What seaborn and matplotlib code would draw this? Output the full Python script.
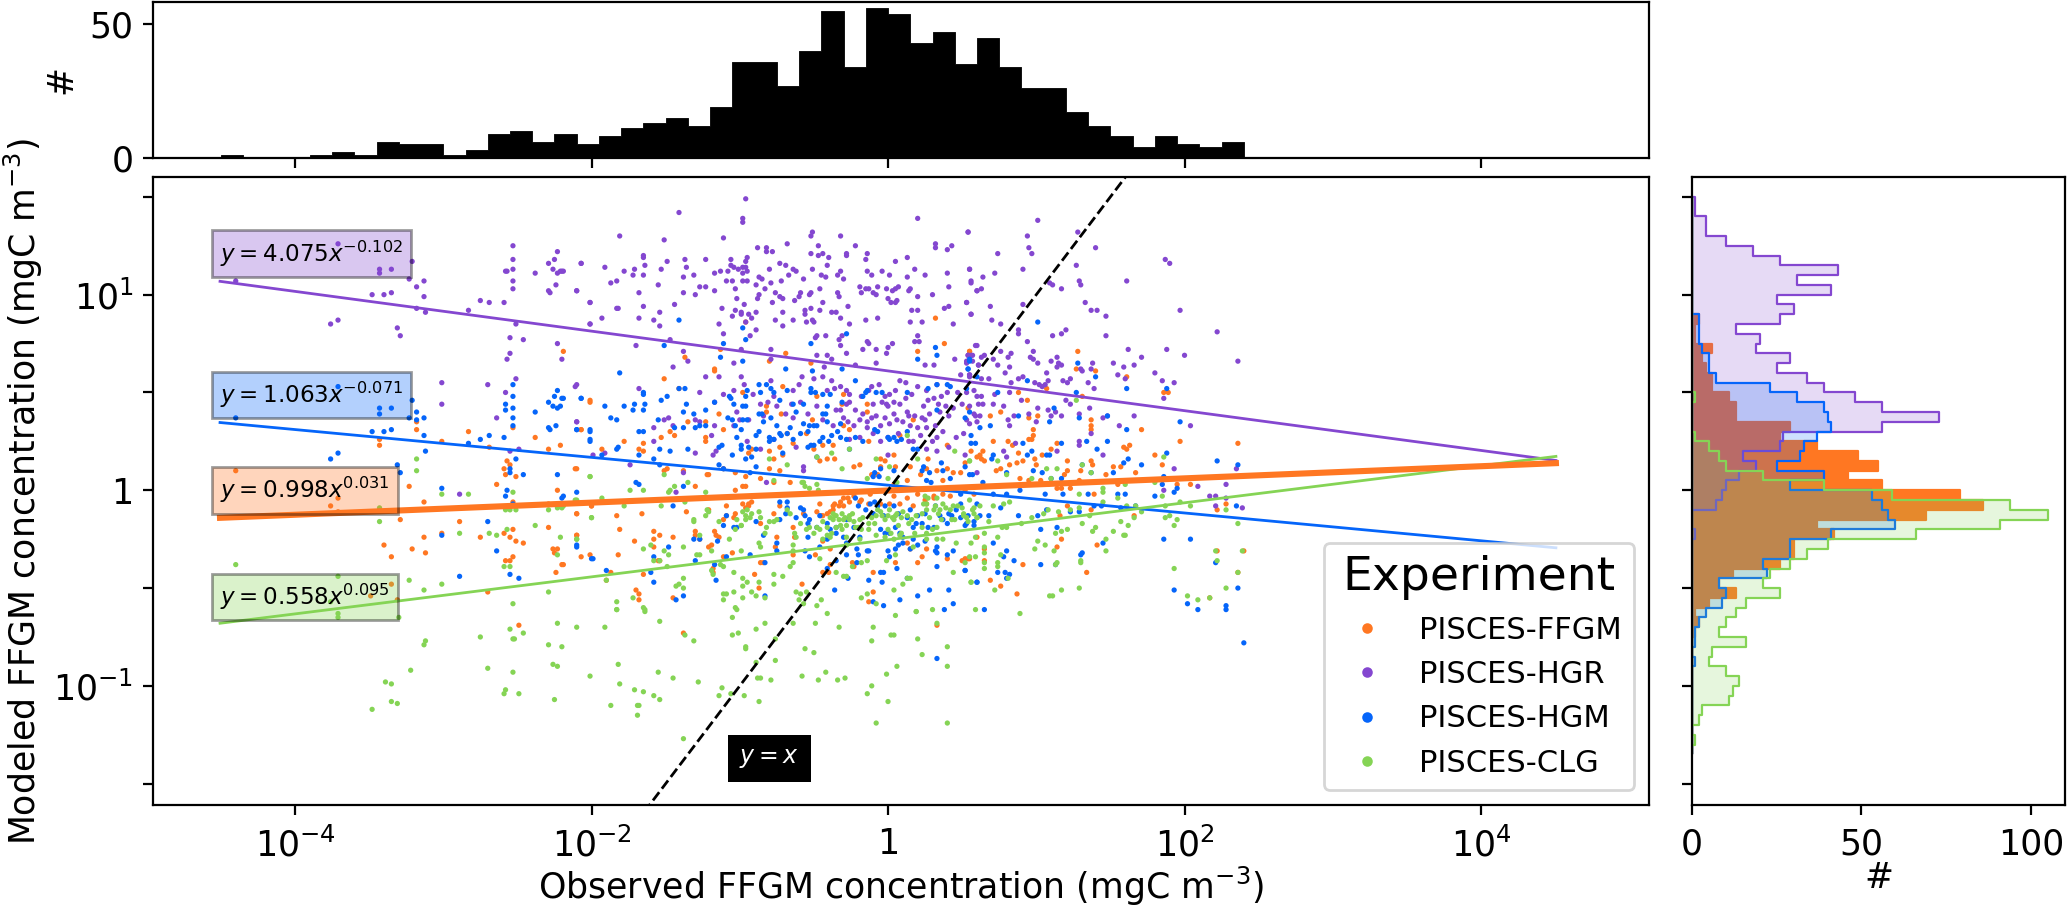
import numpy as np
import pandas as pd
import matplotlib
matplotlib.use('Agg')
import matplotlib.pyplot as plt
import seaborn as sns
from matplotlib.colors import to_rgba
from matplotlib.ticker import NullLocator

# log10(observed), log10(modeled) pairs, one flat list per experiment
hgr_log = [-.96,1.49,-1.41,1.42,-.98,1.39,-.98,1.37,-1.81,1.30,-1.51,1.28,-1.11,1.29,-.51,1.32,-.52,1.30,-.32,1.30,.20,1.39,.54,1.32,.32,1.26,.32,1.24,.43,1.25,.40,1.23,
-.88,1.24,-.82,1.24,-.82,1.22,-.78,1.22,-.68,1.26,-.47,1.25,-.52,1.21,-.47,1.20,-.44,1.21,-.40,1.19,-.41,1.15,-.28,1.21,-.28,1.20,-.22,1.25,-.14,1.21,-.15,1.18,.05,1.17,.13,1.19,.18,1.13,
-1.65,1.20,-1.65,1.19,-1.64,1.15,-1.49,1.17,-1.37,1.18,-1.36,1.14,-1.23,1.18,-1.06,1.18,-.95,1.19,-.96,1.17,-1.06,1.15,-1.04,1.14,-1.01,1.13,-.98,1.14,-.96,1.14,-.98,1.11,-.95,1.12,
-2.07,1.16,-2.20,1.12,-1.91,1.14,-1.78,1.12,-1.71,1.13,-1.72,1.10,-1.65,1.10,-1.53,1.13,-1.38,1.09,-1.31,1.10,-1.17,1.11,-1.13,1.12,-1.08,1.12,
-.80,1.13,-.73,1.16,-.69,1.15,-.64,1.13,-.62,1.12,-.67,1.10,-.57,1.08,-.51,1.13,-.45,1.10,-.42,1.09,-.32,1.12,-.34,1.10,-.30,1.08,-.14,1.12,-.11,1.10,-.04,1.12,.01,1.10,.13,1.09,.25,1.10,.40,1.11,.55,1.13,.56,1.06,
-1.87,1.06,-1.83,1.07,-2.10,1.02,-2.01,.96,-2.01,.85,-1.93,.88,-1.83,.93,-1.82,.93,-1.68,1.01,-1.55,1.05,-1.38,1.01,-1.30,1.00,-1.27,1.04,-1.23,1.04,-1.17,1.02,-1.09,1.07,-1.05,1.07,-.98,1.07,-.95,1.07,-1.03,1.03,-1.02,.98,
-.89,1.05,-.87,1.09,-.85,1.08,-.79,1.06,-.72,1.07,-.83,1.03,-.87,1.00,-.88,.98,-.76,1.01,-.73,.99,-.71,.98,-.78,.96,-.63,.97,-.60,.99,-.59,1.01,-.53,1.00,-.52,1.01,-.46,1.03,-.34,1.01,-.33,.99,
-.19,1.04,-.18,1.01,-.15,1.03,-.13,1.03,-.10,1.01,-.08,1.00,-.07,1.04,-.01,1.03,.03,1.02,.05,1.03,.07,1.04,.14,1.02,.15,1.03,.20,.99,.30,1.00,.41,1.04,.60,1.02,.53,.96,0,.98,.02,.96,.05,.96,.06,.97,.16,.92,.20,.92,.38,.93,.41,.94,.56,.90,.15,.86,.23,.86,.44,.85,
-1.65,.94,-1.44,.95,-1.54,.91,-1.68,.88,-1.58,.87,-1.54,.84,-1.12,.93,-.97,.95,-1.03,.92,-.99,.91,-.99,.90,-.94,.90,-.89,.91,-1.05,.89,-.92,.88,-.96,.86,-1.14,.85,-.89,.82,-1.11,.80,-.93,.79,
-.71,.91,-.56,.92,-.56,.90,-.52,.93,-.46,.92,-.44,.96,-.27,.94,-.38,.91,-.35,.91,-.32,.88,-.07,.88,-.76,.87,-.64,.87,-.71,.84,-.55,.86,-.51,.87,-.50,.86,-.26,.85,-.15,.87,
-.48,.79,-.49,.78,-.42,.79,-.33,.77,-.31,.79,-.14,.76,-.13,.75,.20,.79,.18,.76,.21,.76,.03,.75,0,.73,.60,.74,-1.70,.74,-1.47,.77,-1.38,.71,-1.35,.66,-1.45,.63,-.99,.72,-.79,.72,-1.04,.65,-.79,.67,-.48,.69,-.41,.69,-.38,.67,-.43,.63,-.32,.74,-.28,.70,-.17,.72,-.08,.72,-.01,.70,-.22,.64,-.08,.65,.25,.64,.31,.64,.45,.67,.54,.69,.53,.65,.56,.69,.61,.64,
-4.40,1.07,-3.71,1.26,-3.43,1.13,-3.43,1.11,-3.35,1.13,-3.21,1.17,-3.23,1.08,-3.18,1.04,-3.13,1.07,-3.13,.99,-3.48,1.0,-3.40,1.0,-3.35,1.01,-3.18,.93,-3.12,.91,-3.76,.85,-3.71,.87,-3.31,.83,-3.29,.79,
-2.53,1.25,-2.53,1.18,-2.53,1.13,-2.58,1.12,-2.57,1.12,-2.53,1.07,-2.53,1.03,-2.83,.92,-2.75,.97,-2.69,.96,-2.59,.96,-2.51,.85,-2.55,.78,-2.46,.77,-2.55,.70,-2.57,.67,
-2.38,1.11,-2.29,1.16,-2.25,1.18,-2.23,1.22,-2.26,1.13,-2.23,1.11,-2.21,1.12,-2.19,1.12,-2.07,1.16,-2.29,1.02,-2.28,1.01,-2.24,1.05,-2.10,1.02,-2.01,.96,-2.01,.85,-2.23,.75,-2.20,.67,
-3.01,.55,-3.01,.44,-2.70,.54,-2.58,.50,-2.51,.57,-2.64,.37,-2.10,.54,-2.10,.35,-2.55,.20,-2.49,.21,-2.89,-.02,
-2.11,.53,-1.68,.52,-1.48,.37,-1.51,.36,-2.10,.35,-1.58,.32,-1.58,.25,-1.45,.33,-1.30,.36,-1.27,.35,-1.23,.58,-1.14,.58,-1.27,.50,-1.11,.49,-1.17,.45,-.99,.58,-.97,.54,-.86,.44,-1.02,.40,-.94,.36,-1.17,.33,-1.19,.28,-1.04,.33,-.84,.38,-.77,.48,-.79,.56,-.58,.58,-.50,.57,-.44,.58,-.60,.54,-.65,.44,-.64,.37,-.77,.26,-.62,.22,-.86,.21,-.95,.25,-1.30,.19,-1.18,.18,-1.16,.20,-1.91,.19,-1.99,.18,-1.74,.13,-1.38,.09,-1.43,-.01,-.82,.04,-.57,.12,-.57,.10,
-.41,.51,-.36,.52,-.26,.49,-.35,.41,-.28,.44,-.30,.37,-.27,.35,-.18,.48,-.11,.53,-.06,.54,.08,.56,.12,.55,.01,.49,-.01,.44,.04,.45,-.04,.45,0,.43,.12,.47,.26,.51,.33,.54,.40,.50,.27,.46,.34,.44,.39,.43,.50,.44,.60,.48,.61,.44,-.17,.39,-.08,.38,.04,.39,.13,.40,.18,.38,.23,.37,.28,.39,.35,.40,.41,.38,.59,.38,-.14,.32,-.14,.35,-.11,.37,-.05,.33,.01,.34,.10,.35,.15,.33,.20,.32,.26,.32,.07,.29,.33,.27,.17,.25,-.05,.25,-.19,.27,-.26,.26,.22,.28,.46,.27,.53,.36,.26,.21,.33,.20,0,.18,.55,.59,
-.38,.56,-.32,.53,-.26,.45,-.22,.41,-.19,.36,-.13,.51,-.10,.44,-.02,.48,.05,.51,.08,.44,.16,.49,.20,.53,.24,.43,.31,.47,.36,.48,.44,.42,.47,.50,.55,.43,.58,.51,.62,.38,-.02,.37,.06,.36,.14,.38,.25,.36,.32,.33,.37,.30,-.23,.33,-.10,.29,0,.27,.14,.25,.30,.25,.41,.22,-.37,.33,-.44,.36,-.48,.43,-.54,.39,-.59,.45,-.64,.51,-.69,.39,-.75,.43,-.81,.45,-.91,.49,-1.0,.36,-1.04,.51,-.32,.41,-.28,.51,
.64,.44,.58,.39,.71,.44,.78,.43,.55,.34,.60,.35,.51,.29,.81,.36,.82,.33,.53,.50,.63,.48,.72,.49,.82,.50,.90,.46,.85,.38,.95,.39,1.01,.42,1.08,.41,1.13,.40,1.10,.38,1.0,.35,1.17,.38,1.20,.46,1.23,.44,1.36,.42,1.29,.39,1.48,.38,1.45,.37,1.66,.38,2.04,.33,1.56,.33,1.37,.29,1.29,.25,1.29,.23,.52,.18,.78,.20,.86,.24,.80,.17,1.14,.20,1.45,.18,1.86,.47,1.93,.11,1.86,0,2.35,.11,2.09,.02,2.28,.03,2.17,-.03,2.21,-.03,2.21,-.08,2.28,-.04,2.39,-.09,.60,.09,
.54,1.32,1.01,1.38,.94,1.30,.95,1.24,.97,1.21,.74,1.21,.55,1.13,.91,1.13,.72,1.11,.64,1.09,.56,1.07,.63,1.03,.60,1.02,1.28,1.32,1.40,1.24,1.27,1.15,1.09,1.06,1.11,1.05,1.17,1.03,1.29,1.07,1.30,1.05,1.61,1.07,1.87,1.18,1.90,1.16,.53,.96,.69,.94,.91,.95,.56,.90,.70,.87,.76,.85,.88,.82,.88,.80,1.33,.96,1.37,.92,1.41,.92,1.47,.89,1.47,.79,1.20,.82,1.17,.80,1.11,.79,1.97,.92,2.22,.81,
.59,.74,.94,.76,.76,.71,.98,.71,1.62,.72,1.88,.72,2.00,.69,1.71,.68,2.36,.66,.54,.69,.57,.69,.65,.69,.63,.68,.83,.70,.81,.68,.71,.67,.96,.68,.98,.67,1.14,.68,.53,.66,.57,.66,.74,.64,.61,.64,.82,.63,1.01,.65,1.10,.66,1.15,.65,1.17,.64,1.14,.63,1.38,.65,1.52,.65,1.59,.63,1.66,.64,1.30,.62,1.31,.61,1.37,.62,1.80,.60,.79,.60,1.07,.60,1.55,.59,1.60,.57,1.85,.56,1.93,.55,.55,.59,.49,.59,.55,.58,.63,.57,.68,.57,.88,.57,.91,.58,.83,.55,.99,.55,1.02,.54,1.08,.56,1.06,.54,1.04,.53,1.18,.56,1.21,.55,1.23,.57,1.35,.55,1.39,.52]

hgm_log = [-3.71,.53,-3.43,.42,-3.43,.39,-3.35,.42,-3.21,.46,-3.23,.37,-3.18,.40,-3.18,.36,-3.13,.37,-4.40,.37,-3.48,.30,-3.40,.30,-3.35,.31,-3.13,.28,-3.12,.20,-3.76,.16,-3.71,.19,-3.31,.13,-3.29,.09,-3.01,.01,-3.01,-.23,-2.83,.24,-2.75,.26,-2.69,.28,-2.59,.27,
-2.53,.54,-2.53,.48,-2.58,.44,-2.58,.41,-2.53,.42,-2.53,.37,-2.53,.33,-2.51,.16,-2.55,.11,-2.55,.09,-2.46,.08,-2.57,0,-2.58,-.03,-2.53,-.07,-2.70,-.16,-2.64,-.31,-2.89,-.44,-2.55,-.43,-2.49,-.45,-2.38,.40,-2.29,.45,-2.25,.48,-2.23,.51,-2.20,.47,-2.26,.43,-2.23,.42,-2.21,.43,-2.07,.47,-2.29,.32,-2.28,.31,-2.24,.33,-2.10,.31,-2.01,.31,-2.01,.25,-2.23,.08,-2.10,-.01,-2.20,-.04,-2.10,-.29,-1.99,-.35,
-1.81,.60,-2.19,.47,-2.07,.47,-1.91,.43,-1.78,.43,-1.71,.44,-1.72,.41,-1.65,.41,-1.64,.44,-1.65,.50,-1.65,.49,-1.53,.46,-1.49,.48,-1.41,.52,-1.37,.52,-1.36,.44,-1.38,.40,-1.31,.39,-1.23,.41,-1.87,.37,-1.83,.36,-2.10,.31,-2.01,.30,-2.01,.26,-1.68,.30,-1.65,.30,-1.55,.36,-1.38,.32,-1.30,.32,-1.27,.33,-1.23,.33,-1.82,.22,-1.83,.21,-1.54,.21,-1.44,.32,-1.47,.20,-1.35,.21,-1.68,.18,-1.93,.18,-1.58,.16,-1.54,.13,
-1.17,.45,-1.07,.48,-1.06,.47,-1.04,.44,-.98,.43,-.96,.43,-.95,.51,-.96,.48,-1.08,.37,-1.05,.36,-.98,.36,-.95,.36,-1.03,.33,-.99,.31,-1.02,.27,-1.12,.23,-1.14,.22,-1.05,.18,-.99,.23,-.99,.21,-.94,.22,-.89,.21,-.96,.16,-.92,.17,-.89,.12,-1.14,.13,-1.11,.11,-.93,.09,
-.87,.54,-.82,.54,-.79,.52,-.77,.50,-.73,.46,-.68,.51,-.85,.39,-.87,.39,-.79,.37,-.84,.35,-.87,.30,-.89,.28,-.80,.27,-.80,.25,-.77,.26,-.73,.29,-.68,.29,-.72,.28,-.64,.44,-.57,.44,-.62,.40,-.59,.29,-.54,.30,-.53,.33,-.48,.33,-.64,.26,-.71,.19,-.54,.22,-.48,.17,-.52,.23,-.50,.23,-.46,.25,-.44,.39,-.42,.39,-.41,.43,-.52,.52,-.52,.50,-.49,.50,-.44,.49,-.39,.49,-.31,.62,-.22,.56,-.31,.45,-.34,.30,-.32,.27,-.28,.26,-.26,.21,-.17,.25,-.38,.28,
-.15,.50,-.14,.51,-.17,.48,-.09,.31,-.07,.30,.04,.27,0,.27,.09,.26,.13,.30,.20,.21,.23,.10,.28,.09,.29,.04,.42,.06,.36,.14,-.05,.11,-.06,.07,-.09,.09,.40,.54,.42,.53,.52,.37,.27,.52,.33,.54,.53,.52,.60,.58,.33,.41,-.04,.50,.13,.50,
-.86,.50,-.75,.33,-.66,.32,-.57,.34,-.50,.33,-.44,.27,-.40,.25,-.32,.34,-.41,.35,-.08,.50,-.22,.27,.01,.26,.06,.25,.17,.21,.24,.12,.26,.05,.37,.10,-.10,.07,.04,.10,.55,.08,
-2.19,-.03,-1.38,.02,-1.45,-.08,-1.70,.04,-1.68,.03,-2.10,-.28,-2.0,-.35,-1.90,-.41,-1.58,-.47,-1.38,-.54,-1.43,-.56,-1.60,-.42,-1.48,-.29,-1.58,-.34,-1.30,-.36,-1.27,-.25,-1.31,-.25,-1.15,-.26,-1.11,-.18,-1.09,-.13,-1.02,-.19,-1.04,-.19,-.89,-.16,-.93,-.33,-1.17,-.38,-1.16,-.46,-1.09,-.34,-.83,-.37,-.73,-.06,-.68,-.06,-.68,-.09,-.69,-.12,-.62,-.14,-.57,-.10,-.56,-.13,-.54,-.17,-.73,-.15,-.75,-.27,-.75,-.31,-.84,-.23,-.83,-.54,
-.46,-.13,-.41,-.17,-.35,-.19,-.28,-.15,-.22,-.04,-.20,-.08,-.12,-.07,-.07,-.08,-.10,-.12,-.03,-.13,.04,-.08,.07,-.12,.13,-.14,.17,-.19,.20,-.13,.23,-.17,.31,-.19,.35,-.13,.41,-.12,.46,-.10,.54,-.13,.60,-.07,.52,-.18,.40,-.17,.10,-.24,.01,-.22,-.05,-.20,-.19,-.24,-.28,-.27,-.35,-.22,-.41,-.25,-.46,-.29,-.54,-.24,-.56,-.31,-.53,-.34,.07,-.28,.15,-.30,.20,-.28,.33,-.32,.32,-.31,.33,-.39,.06,-.40,0,-.31,-.05,-.42,-.03,-.42,-.13,-.31,-.20,-.33,-.21,-.37,.52,-.41,.60,-.47,-.13,-.46,-.04,-.47,.13,-.45,-.36,-.51,-.27,-.45,-.41,-.40,-.35,-.36,.28,-.51,.41,-.51,.20,-.54,.08,-.56,-.10,-.57,-.03,-.59,.44,-.58,.38,-.61,
-.59,-.09,-.53,-.15,-.48,-.19,-.39,-.20,-.30,-.24,-.23,-.19,-.15,-.10,-.09,-.06,-.02,-.08,.05,-.19,.15,-.10,.19,-.17,.25,-.12,.27,-.19,.37,-.15,.43,-.13,.49,-.14,.58,-.16,.49,-.07,.32,-.08,.08,-.22,-.02,-.22,.17,-.25,.25,-.26,.33,-.29,-.14,-.31,-.21,-.30,-.28,-.33,.10,-.27,.01,-.34,.05,-.30,.40,-.33,.44,-.31,
1.27,.50,.74,.50,.55,.40,.88,.38,1.12,.42,1.29,.37,1.48,.38,1.09,.35,1.97,.35,.62,.32,.69,.33,.56,.28,.56,.24,.59,.24,.91,.24,1.17,.24,1.34,.25,1.48,.25,1.61,.31,1.41,.21,.97,.20,.94,.18,.71,.18,.70,.16,1.07,.18,1.09,.18,1.88,.19,1.62,.16,1.59,.14,1.71,.13,2.22,.15,2.36,.13,1.31,.13,.98,.10,1.04,.09,.80,.09,.57,.08,.52,.12,1.10,.06,1.17,.06,1.37,.09,1.52,.09,1.86,.07,1.85,.03,1.95,.01,1.93,-.01,1.55,-.02,1.60,-.02,1.80,-.03,1.35,-.02,1.18,-.02,1.06,-.02,.89,0,.71,-.02,.64,.04,.80,-.02,.49,-.02,
2.35,-.08,1.67,-.08,1.57,-.09,1.44,-.08,1.39,-.08,1.29,-.11,1.23,-.11,1.07,-.10,1.01,-.13,.88,-.13,.76,-.09,.68,-.13,.62,-.13,.53,-.17,.58,-.18,1.14,-.19,1.03,-.20,.71,-.27,.80,-.31,.78,-.34,.85,-.36,1.03,-.38,1.13,-.38,1.31,-.32,1.30,-.33,1.45,-.27,1.86,-.25,2.04,-.25,2.21,-.37,.52,-.41,.74,-.42,.79,-.42,.82,-.43,.80,-.45,.60,-.47,.65,-.61,1.93,-.51,2.36,-.50,2.02,-.58,2.09,-.61,2.28,-.59,2.28,-.61,2.40,-.78,.33,-.86,
-1.41,.87,-.98,.83,-.96,.77,-1.11,.75,-1.51,.74,-1.13,.68,-.98,.66,-.52,.75,-.28,.80,.32,.73,.33,.69,.20,.67,.55,.67,.54,.62,-.69,.62,-.51,.61,1.01,.86,.55,.66,.54,.62,1.28,.65,1.40,.58,.94,.56,1.61,.52,1.88,.52]

ffgm_log = [-4.40,.10,-3.76,-.08,-3.71,-.04,-3.71,-.11,-3.43,.26,-3.43,.23,-3.18,.35,-3.18,.31,-3.23,.02,-3.13,-.06,-3.29,-.15,-3.40,-.28,-3.35,-.34,-3.21,-.30,-3.13,-.24,-3.12,-.32,-3.35,-.48,-3.49,-.54,-3.31,-.56,-3.01,.25,-2.83,.30,-2.69,.22,-2.38,.27,-2.29,.21,-2.21,.23,-2.53,.32,-2.01,.45,-2.07,.31,
-2.57,.15,-2.55,.13,-2.59,.11,-2.58,.08,-2.51,.07,-2.64,.03,-2.23,0,-2.10,.11,-2.29,-.07,-2.53,-.06,-2.0,-.08,-2.10,-.12,-2.89,-.16,-3.01,-.22,-2.29,-.19,-2.53,-.20,-2.59,-.22,-2.55,-.24,-2.75,-.24,-2.51,-.26,-2.46,-.27,-2.10,-.23,-2.26,-.30,-2.23,-.30,-2.25,-.32,-2.07,-.34,-2.53,-.34,-2.58,-.36,-2.55,-.36,-2.20,-.38,-2.24,-.42,-2.70,-.52,-2.49,-.69,-1.38,-.73,.33,-.69,
.32,.88,.38,.75,.20,.71,.55,.71,-.96,.86,-.69,.70,-.52,.65,-1.13,.72,-1.37,.68,-.80,.66,-2.19,.71,-1.17,.62,.55,.71,1.28,.71,1.27,.62,1.40,.61,1.07,.52,1.61,.58,
-1.51,.57,-1.41,.52,-2.01,.46,-1.17,.61,-.98,.50,-.71,.53,-.82,.43,-.82,.40,-.72,.39,-1.14,.39,-1.35,.35,-1.23,.35,-1.47,.30,-1.44,.28,-2.07,.31,-1.11,.31,-1.23,.27,-1.23,.25,-1.78,.25,-1.65,.24,-1.68,.21,-1.65,.20,-1.93,.21,-1.53,.27,-2.11,.11,-1.49,.11,-1.51,.10,-1.38,.10,-1.21,.08,-1.22,.08,-1.11,.11,-1.03,.09,-.96,.07,-.86,.06,-.77,.04,-.66,.04,-.96,.02,-.98,.02,-1.30,.02,-1.03,0,
-.94,-.07,-.92,-.06,-.94,-.08,-.96,-.09,-1.03,-.12,-1.04,-.14,-1.11,-.15,-1.09,-.13,-2.0,-.08,-1.83,-.13,-1.81,-.20,-1.66,-.12,-1.36,-.11,-1.21,-.10,-1.09,-.08,-.98,-.07,-2.10,-.12,-2.10,-.23,-2.01,-.33,-1.82,-.33,-1.71,-.26,-1.58,-.21,-1.58,-.25,-1.54,-.23,-1.58,-.29,-1.45,-.24,-1.30,-.21,-1.30,-.23,-1.27,-.25,-1.17,-.21,-1.16,-.23,-1.14,-.24,-1.21,-.29,
-2.19,-.38,-1.87,-.42,-1.90,-.46,-1.65,-.43,-1.55,-.36,-1.54,-.36,-1.70,-.51,-1.68,-.53,-1.68,-.56,-1.45,-.55,-1.19,-.28,-1.11,-.34,-1.05,-.32,-1.18,-.40,-1.18,-.42,-.90,-.43,-.87,-.50,-.86,-.37,-.84,-.37,
-.86,-.17,-.77,-.12,-.73,-.08,-.64,-.19,-.57,-.12,-.46,-.07,-.44,-.13,-.41,-.12,-.37,-.08,-.33,-.08,-.30,-.04,-.27,-.04,-.23,-.03,-.18,-.05,-.12,-.02,.01,-.07,.13,-.04,.20,-.02,.31,-.03,.26,-.07,.42,-.03,.52,0,.58,-.02,
-.37,-.10,-.30,-.08,-.26,-.06,-.32,-.06,-.36,-.07,-.39,-.11,-.45,-.13,-.48,-.11,-.19,-.06,-.13,-.07,-.05,-.07,.04,-.03,.08,-.07,.17,-.08,.31,-.04,.37,-.02,.25,-.05,-.05,.12,-.02,.15,.04,.18,-.11,.08,.15,.12,.26,.11,.37,.05,.44,.09,-.46,.15,-.50,.21,-.64,.24,-.73,.10,-.80,.11,
-.76,-.29,-.75,-.24,-.64,-.33,-.63,-.24,-.49,-.33,-.44,-.26,-.39,-.30,-.24,-.37,-.23,-.39,-.10,-.42,.05,-.37,.13,-.27,.15,-.30,.20,-.37,.23,-.34,.26,-.30,.40,-.35,.50,-.36,.55,-.35,-.13,-.57,-.10,-.52,-.58,-.48,-.44,-.42,-.40,-.42,-.39,-.38,
-.48,.48,-.30,.49,-.31,.44,-.30,.33,-.26,.31,-.13,.25,-.14,.40,-.14,.44,.08,.28,.17,.36,.27,.16,.40,.23,.54,.42,-.51,.36,-.55,.29,-.68,.29,-.80,.20,-.73,.22,-.71,.18,-.77,.16,-.92,.21,-.94,.19,-.41,.16,-.36,.16,-.37,.23,-.44,.23,-.23,.12,-.19,.13,-.05,.16,.05,.12,-.07,.08,.04,.03,.13,.05,.22,.08,.33,.10,.40,.11,.49,.09,
1.31,.48,.88,.50,1.86,.50,1.89,.50,.94,.46,.76,.40,.69,.38,.95,.37,1.01,.38,1.37,.36,1.37,.33,1.37,.31,1.71,.31,.98,.31,.98,.28,.71,.25,.81,.25,.84,.23,.95,.26,.97,.26,1.97,.25,2.36,.24,1.59,.22,1.61,.21,1.63,.23,.56,.20,.64,.20,.62,.18,.60,.17,.65,.15,.63,.16,.88,.19,1.10,.21,1.14,.24,1.80,.18,1.85,.13,1.37,.15,1.38,.13,1.21,.15,1.04,.18,.91,.15,.87,.14,.82,.13,.99,.16,1.0,.13,1.30,.10,1.52,.12,1.57,.12,1.67,.09,1.21,.10,1.19,.08,.73,.10,.76,.11,.52,.14,.89,.06,.95,.05,1.03,.05,1.08,.03,1.29,.05,1.47,.08,1.55,.03,1.95,.03,2.04,.03,1.14,.01,1.17,.01,1.23,.01,1.39,-.02,1.66,-.13,1.37,-.10,1.16,-.13,1.21,-.08,2.28,-.07,2.22,-.10,1.41,-.28,1.14,-.29,1.17,-.25,.91,-.38,.65,-.30,.65,-.36,.52,-.35,.54,-.35,1.34,-.42,.69,-.46,.76,-.49,.87,-.53,2.22,-.31,2.40,-.31,2.36,-.42,2.17,-.55,.60,-.24]

clg_log = [-3.71,-.65,-3.30,-.65,-3.48,-1.12,-3.39,-.98,-3.35,-.99,-3.35,-1.08,-3.31,-1.09,-3.22,-.92,-3.13,-.79,-3.12,-.77,-2.75,-.75,-2.70,-.91,-2.55,-.71,-2.53,-.76,-2.52,-.76,-2.46,-.73,-2.53,-.93,-2.58,-1.02,-2.59,-1.04,-2.49,-1.04,-2.29,-.79,-2.20,-.80,-2.23,-.68,-2.10,-.70,-1.91,-.70,-2.26,-.89,-2.23,-.90,-2.25,-1.07,-2.01,-.95,-1.82,-.89,-1.81,-.99,-1.71,-1.02,-1.65,-1.03,-1.87,-1.10,-1.69,-1.10,-1.68,-1.10,-1.69,-1.15,-1.58,-1.05,-1.54,-1.07,-1.55,-.93,-1.45,-.96,-1.54,-.67,-1.64,-.62,-1.83,-.61,-1.37,-.74,-1.31,-.77,-1.28,-.98,-1.12,-1.01,-1.14,-1.05,-1.06,-1.04,-.97,-1.05,-.87,-1.08,-1.38,-1.27,-1.05,-.74,-1.01,-.73,-1.05,-.65,-.89,-.71,-.83,-.68,-.96,-.80,-.96,-.81,-.76,-.76,-.89,-.88,-.76,-.87,-.88,-.96,-.86,-.96,-.79,-.97,-.64,-.68,-.49,-.68,-.41,-.63,-.33,-.70,-.56,-.81,-.50,-.83,-.58,-.95,-.47,-.97,-.42,-.93,-.34,-.97,-.29,-.96,-.10,-.70,-.11,-.77,.02,-.74,.04,-.74,.05,-.64,.19,-.62,.20,-.76,.23,-.84,-.01,-.94,.06,-.90,-.11,-1.0,-.14,-1.04,0,-1.08,-.08,-1.19,.40,-1.19,.40,-.90,.40,-.80,.33,-.68,
-4.40,-.38,-3.71,-.44,-3.23,-.46,-3.13,-.51,-3.01,-.48,-3.43,-.09,-3.43,-.16,-3.18,.16,-3.18,.10,-3.01,-.02,-2.83,-.02,-2.53,-.01,-2.58,-.10,-2.55,-.10,-2.51,-.10,-2.29,-.10,-2.23,-.09,-2.20,-.09,-2.10,-.05,-2.01,.07,-2.0,-.14,-2.89,-.22,-2.69,-.22,-2.64,-.23,-2.57,-.20,-2.38,-.18,-2.21,-.24,-2.10,-.25,-2.23,-.33,-2.59,-.39,-2.55,-.39,-2.29,-.52,-2.53,-.58,-3.76,-.57,-3.71,-.63,
-2.01,.07,-2.11,-.05,-2.19,-.08,-1.93,-.04,-1.78,-.08,-1.74,0,-1.65,0,-1.51,.08,-1.35,.04,-1.44,.02,-1.47,0,-1.48,-.01,-1.53,-.08,-1.37,-.06,-1.23,-.01,-2.0,-.14,-2.10,-.25,-1.65,-.30,-1.60,-.28,-1.51,-.31,-1.48,-.33,-1.38,-.29,-1.58,-.36,-1.54,-.36,-1.90,-.46,-1.49,-.39,-1.43,-.49,-1.38,-.45,-1.38,-.50,-1.41,-.48,-1.83,-.57,-1.83,-.61,-1.72,-.55,-1.65,-.60,-1.64,-.61,
-1.31,-.15,-1.31,-.16,-1.27,-.23,-1.23,-.13,-1.21,-.11,-1.22,-.10,-1.14,-.16,-1.07,-.25,-1.03,-.20,-.99,-.18,-.96,-.13,-.98,-.11,-.95,-.10,-.92,-.12,-.87,-.11,-.99,-.31,-.87,-.27,-.86,-.29,-.83,-.22,-.80,-.16,-.75,-.15,-.68,-.10,-.66,-.12,-.63,-.22,-.62,-.24,-.64,-.28,-.64,-.31,-.64,-.37,-1.29,-.33,-1.27,-.33,-1.19,-.31,-1.19,-.41,-1.18,-.43,-1.13,-.38,-1.11,-.39,-1.04,-.42,-.98,-.45,-.95,-.47,-.98,-.49,-.87,-.47,-1.11,-.53,-1.09,-.53,-1.04,-.52,-.92,-.52,-1.11,-.56,-.98,-.55,-1.03,-.60,-1.02,-.61,-.89,-.54,-.83,-.55,-.77,-.48,-.77,-.43,-.71,-.44,-.66,-.39,-.62,-.52,-.59,-.53,-.55,-.52,-.60,-.56,-.57,-.58,-.48,-.59,-.45,-.56,
-.58,.04,-.56,.02,-.53,.01,-.47,0,-.48,.03,-.55,-.20,-.50,-.22,-.46,-.20,-.41,-.19,-.37,-.12,-.36,-.13,-.33,-.15,-.31,-.12,-.29,-.14,-.26,-.13,-.23,-.16,-.38,-.22,-.35,-.19,-.31,-.20,-.28,-.24,-.26,-.15,-.20,-.19,-.19,-.15,-.13,-.20,-.11,-.14,-.09,-.17,-.05,-.11,-.04,-.13,0,-.13,.04,-.15,.06,-.12,.09,-.14,.13,-.13,0,-.20,.02,-.22,.08,-.23,.16,-.15,.18,-.22,.23,-.19,.25,-.03,.26,-.07,.27,-.04,.31,-.10,.34,-.12,.33,-.19,.37,-.07,.39,-.09,.42,-.10,.45,-.15,.47,-.08,.51,-.13,.54,-.16,.58,-.12,.33,-.25,.26,-.25,.46,-.27,.17,-.29,
-1.02,-.15,-.99,-.18,-.96,-.15,-.93,-.14,-.86,-.14,-.82,-.19,-.77,-.16,-.59,-.17,-.53,-.19,-.48,-.19,-.44,-.16,-.39,-.14,-.37,-.15,-.35,-.13,-.32,-.18,-.30,-.15,-.28,-.18,-.24,-.12,-.22,-.19,-.18,-.20,-.17,-.14,-.13,-.17,-.08,-.13,-.07,-.10,-.02,-.15,.01,-.10,.03,-.14,.05,-.13,.07,-.18,.10,-.11,.14,-.17,.19,-.13,.23,-.12,.24,-.07,.26,-.10,.28,-.14,.32,-.08,.33,-.04,.35,-.10,.36,-.15,.43,-.15,.44,-.08,.50,-.09,.57,-.10,.60,-.14,.26,-.22,.30,-.20,.09,-.22,.04,-.25,-.02,-.24,-.08,-.23,-.19,-.25,-.28,-.28,-.39,-.24,-.44,-.25,-.41,-.23,.37,-.25,
-.80,.16,-.68,.13,-.77,.05,-.57,.04,-.48,.17,-.38,.19,-.31,.11,-.26,.21,-.08,.16,.01,.12,.13,.28,.20,.16,.45,.20,.55,.15,-.14,.06,0,.06,.06,.04,-.46,-.35,-.35,-.42,-.30,-.44,-.28,-.44,-.24,-.39,-.18,-.37,-.14,-.36,-.01,-.36,.05,-.33,.15,-.45,.13,-.45,.10,-.48,-.14,-.53,-.18,-.55,-.08,-.58,.04,-.51,.19,-.62,.30,-.61,.44,-.42,.56,-.47,
1.27,.46,.74,.15,.55,.15,1.07,.11,1.14,.11,.80,.08,.97,.06,1.10,.06,1.31,.13,1.37,.09,1.86,.17,1.60,.03,1.80,.04,1.85,-.03,1.45,.01,1.45,-.01,1.29,-.02,1.55,-.04,1.45,-.06,1.36,-.13,1.29,-.09,1.61,-.08,1.66,-.14,1.67,-.08,1.71,-.11,1.87,-.08,1.87,-.14,1.90,-.13,1.97,-.06,1.95,-.15,2.04,-.08,1.93,-.18,2.28,-.10,2.36,-.17,1.62,-.18,1.57,-.16,1.52,-.21,1.60,-.23,1.59,-.23,1.47,-.25,1.40,-.19,1.38,-.21,1.21,-.20,1.17,-.21,1.31,-.17,1.13,-.22,1.01,-.26,1.06,-.28,.99,-.30,1.12,-.31,1.47,-.31,1.14,-.37,1.30,-.37,1.30,-.36,1.13,-.38,2.21,-.31,2.39,-.31,2.22,-.36,1.93,-.40,2.36,-.42,2.28,-.50,2.17,-.55,2.09,-.56,2.02,-.54,1.29,-.50,1.17,-.51,1.09,-.54,1.11,-.54,.72,-.51,.56,-.47,.81,-.45,.59,-.61,.89,-.63,.65,-.29,.65,-.32,.76,-.33,.52,-.37,.55,-.34,.59,-.34,.65,-.37,.65,-.40,.74,-.37,.74,-.39,.56,-.27,.74,-.24,.59,-.24,.65,-.22,.53,-.14,.51,-.12,.58,-.09,.62,-.08,.71,-.08,.78,-.07,.82,-.06,.90,-.17,.97,-.14,1.05,-.12,1.08,-.10,1.15,-.11,1.23,-.10,.77,-.19,.80,-.19,.60,-.14,.68,-.16,.55,-.05]

# histogram of the observations, bins of 0.15 decade from 10^-4.5
obs_counts = [1,0,0,0,1,2,1,6,5,5,1,3,9,10,6,9,5,8,11,13,15,12,19,36,36,27,40,55,34,56,54,43,47,35,45,34,26,26,17,12,8,4,8,5,4,6]

# histograms of the models, bins of 0.05 decade, from 10^1.45 down to 10^-1.35
ffgm_counts = [0]*12 + [2,1,1,6,3,4,6,6,11,13,13,29,26,37,49,55,46,56,79,86,69,37,42,30,30,26,12,8,13,5,1,2,1,0,0,0] + [0]*9
hgr_counts = [1,1,4,4,10,18,26,43,31,41,25,30,26,13,20,19,29,25,34,39,48,56,73,56,27,26,15,19,14,10,9,7,0,0,1] + [0]*22
hgm_counts = [0]*12 + [2,2,2,3,5,5,7,23,31,39,40,41,37,33,32,25,39,29,53,56,58,60,41,29,29,21,22,8,10,9,4,2,1,1,0,1] + [0]*9
clg_counts = [0]*20 + [1,0,0,0,1,5,8,10,21,39,59,94,105,91,66,40,34,29,23,21,26,16,13,10,8,16,6,5,10,14,12,11,3,2,0,1,0]

experiments = ['PISCES-FFGM', 'PISCES-HGR', 'PISCES-HGM', 'PISCES-CLG']
colors = ['#ff7722', '#8447d0', '#0565fa', '#85d455']
fit_labels = [r'$y = 0.998x^{0.031}$', r'$y = 4.075x^{-0.102}$', r'$y = 1.063x^{-0.071}$', r'$y = 0.558x^{0.095}$']
fit_x = [3.12e-5, 3.2e4]
fit_y = [[.723, 1.376], [11.7, 1.42], [2.22, .508], [.209, 1.49]]
label_y = [1, 16.2, 3.07, .285]
x_ticks = [1e-4, 1e-2, 1, 1e2, 1e4]
x_ticklabels = [r'$10^{-4}$', r'$10^{-2}$', '1', r'$10^{2}$', r'$10^{4}$']
y_ticks = [10**1.5, 10, 10**.5, 1, 10**-.5, .1, 10**-1.5]
y_ticklabels = ['', r'$10^{1}$', '', '1', '', r'$10^{-1}$', '']

W, H = 2067, 905
plt.rcParams['font.size'] = 12.5
plt.rcParams['xtick.major.pad'] = 4.5


def add_axes(left, top, right, bottom):
    return fig.add_axes([left / W, 1 - bottom / H, (right - left) / W, (bottom - top) / H])


fig = plt.figure(figsize=(W / 200, H / 200), dpi=200)
ax = add_axes(153, 177.3, 1649, 805)
ax_top = add_axes(153, 1.7, 1649, 157.7)
ax_right = add_axes(1692, 177.3, 2065, 805)

frames = []
for name, values in zip(experiments, [ffgm_log, hgr_log, hgm_log, clg_log]):
    pairs = np.array(values).reshape(-1, 2)
    frames.append(pd.DataFrame({'obs': 10 ** pairs[:, 0], 'mod': 10 ** pairs[:, 1], 'Experiment': name}))
df = pd.concat(frames, ignore_index=True)

sns.scatterplot(data=df, x='obs', y='mod', hue='Experiment', hue_order=experiments,
                palette=colors, s=3.6, linewidth=0, ax=ax, zorder=2)
ax.set_xscale('log')
ax.set_yscale('log')

# regression lines
for i in range(4):
    sns.lineplot(x=fit_x, y=fit_y[i], color=colors[i], lw=2.2 if i == 0 else 1.0, ax=ax, zorder=3 + (i == 0))
    ax.text(3.12e-5, label_y[i], fit_labels[i], fontsize=8.3, va='center', zorder=5,
            bbox=dict(facecolor=to_rgba(colors[i], .3), edgecolor=(0, 0, 0, .38), lw=1, pad=3))

ax.plot([1e-5, 1e5], [1e-5, 1e5], color='k', ls='--', lw=1, zorder=4)
ax.text(.158, .0427, '$y = x$', color='w', fontsize=8.5, ha='center', va='center', zorder=5,
        bbox=dict(facecolor='k', edgecolor='none', pad=4.2))

ax.set_xlim(10 ** -4.958, 10 ** 5.133)
ax.set_ylim(10 ** -1.609, 10 ** 1.600)
ax.set_xticks(x_ticks, x_ticklabels)
ax.set_yticks(y_ticks, y_ticklabels)
ax.xaxis.set_minor_locator(NullLocator())
ax.yaxis.set_minor_locator(NullLocator())
ax.set_xlabel(r'Observed FFGM concentration (mgC m$^{-3}$)', fontsize=12.5, labelpad=.5)
ax.set_ylabel(r'Modeled FFGM concentration (mgC m$^{-3}$)', fontsize=12.5, labelpad=3)
sns.move_legend(ax, 'lower right', title='Experiment', fontsize=11, title_fontsize=17,
                markerscale=2, handletextpad=.7)

# top histogram
obs_edges = list(np.arange(-30, 17) * .15)
sns.histplot(x=10 ** (np.array(obs_edges[:-1]) + .075), weights=obs_counts, bins=obs_edges, log_scale=True,
             color='k', alpha=1, element='step', linewidth=.3, ax=ax_top)
ax_top.set_xlim(ax.get_xlim())
ax_top.set_ylim(0, 58.5)
ax_top.set_xticks(x_ticks, [''] * 5)
ax_top.xaxis.set_minor_locator(NullLocator())
ax_top.set_yticks([0, 50])
ax_top.set_xlabel('')
ax_top.set_ylabel('#', fontsize=12.5)

# right histograms
mod_edges = list(np.arange(-27, 31) * .05)
mod_centers = 10 ** (np.array(mod_edges[:-1]) + .025)
all_counts = [ffgm_counts, hgr_counts, hgm_counts, clg_counts]
for i in range(4):
    sns.histplot(y=mod_centers, weights=all_counts[i][::-1], bins=mod_edges, log_scale=True,
                 color=colors[i], alpha=1 if i == 0 else .2, element='step', linewidth=.8, ax=ax_right)
ax_right.set_ylim(ax.get_ylim())
ax_right.set_xlim(0, 110.1)
ax_right.set_xticks([0, 50, 100])
ax_right.set_yticks(y_ticks, [''] * 7)
ax_right.yaxis.set_minor_locator(NullLocator())
ax_right.set_ylabel('')
ax_right.set_xlabel('#', fontsize=12.5, labelpad=0)

fig.savefig('out.png', dpi=200)
